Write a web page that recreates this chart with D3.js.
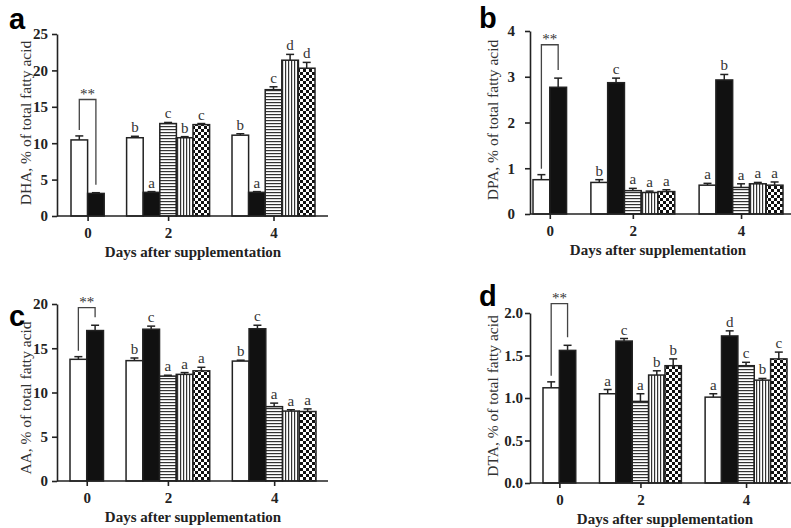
<!DOCTYPE html>
<meta charset="utf-8">
<style>
body { margin: 0; background: #fff; }
svg text { font-family: "Liberation Serif", "Times New Roman", serif; }
.letter { font-family: "Liberation Sans", Arial, sans-serif; font-weight: bold; font-size: 29px; fill: #000; }
.axis path, .axis line { stroke: #222; stroke-width: 1.6px; }
.axis text { font-family: "Liberation Serif", serif; font-weight: bold; font-size: 15px; fill: #222; }
.ytitle { font-size: 15.5px; fill: #333; }
.xtitle { font-size: 15px; font-weight: bold; fill: #222; }
.sig { font-size: 15px; fill: #333; }
.bar { stroke: #222; stroke-width: 1.5px; }
.err { stroke: #222; stroke-width: 1.5px; }
.bracket { stroke: #444; stroke-width: 1.3px; fill: none; }
</style>
<svg width="791" height="528"></svg>
<script src="https://d3js.org/d3.v7.min.js"></script>
<script>

var days = ["0", "2", "4"];
var fills = ["white", "black", "hstripe", "vstripe", "checker"];

// DHA
var dhaMean = [[10.45, 3.1], [10.75, 3.25, 12.7, 10.75, 12.55], [11.1, 3.25, 17.35, 21.4, 20.3]];
var dhaErr = [[0.55, 0.1], [0.2, 0.1, 0.15, 0.15, 0.15], [0.2, 0.1, 0.4, 0.8, 0.8]];
var dhaSig = [["", ""], ["b", "a", "c", "b", "c"], ["b", "a", "c", "d", "d"]];

// DPA
var dpaMean = [[0.75, 2.77], [0.69, 2.87, 0.51, 0.47, 0.49], [0.63, 2.93, 0.58, 0.66, 0.63]];
var dpaErr = [[0.11, 0.2], [0.06, 0.1, 0.05, 0.03, 0.04], [0.04, 0.12, 0.08, 0.03, 0.07]];
var dpaSig = [["", ""], ["b", "c", "a", "a", "a"], ["a", "b", "a", "a", "a"]];

// AA
var aaMean = [[13.75, 17.0], [13.6, 17.15, 11.85, 12.05, 12.45], [13.55, 17.2, 8.4, 7.9, 7.85]];
var aaErr = [[0.3, 0.6], [0.3, 0.35, 0.1, 0.2, 0.4], [0.1, 0.4, 0.4, 0.15, 0.3]];
var aaSig = [["", ""], ["b", "c", "a", "a", "a"], ["b", "c", "a", "a", "a"]];

// DTA
var dtaMean = [[1.12, 1.56], [1.05, 1.67, 0.96, 1.27, 1.38], [1.01, 1.73, 1.38, 1.21, 1.46]];
var dtaErr = [[0.07, 0.06], [0.05, 0.03, 0.09, 0.05, 0.08], [0.04, 0.06, 0.04, 0.02, 0.08]];
var dtaSig = [["", ""], ["a", "c", "a", "b", "b"], ["a", "d", "c", "b", "c"]];

var panels = [
  {letter: "a", lx: 9, ly: 29, title: "DHA, % of total fatty acid", mean: dhaMean, err: dhaErr, sig: dhaSig,
   ymax: 25, ticks: [0, 5, 10, 15, 20, 25], fmt: d3.format("d"), bracketTop: 16,
   axisX: 57, axisEnd: 328, y0: 216, yTop: 34, barStart: 71, barEnd: 315, gap: 1.35, titleX: 31, titleY: 123, tickPad: 4},
  {letter: "b", lx: 479, ly: 28, title: "DPA, % of total fatty acid", mean: dpaMean, err: dpaErr, sig: dpaSig,
   ymax: 4, ticks: [0, 1, 2, 3, 4], fmt: d3.format("d"), bracketTop: 3.7,
   axisX: 530, axisEnd: 791, y0: 214, yTop: 31, barStart: 533, barEnd: 783, gap: 1.45, titleX: 498, titleY: 120, tickPad: 10},
  {letter: "c", lx: 9, ly: 326, title: "AA, % of total fatty acid", mean: aaMean, err: aaErr, sig: aaSig,
   ymax: 20, ticks: [0, 5, 10, 15, 20], fmt: d3.format("d"), bracketTop: 19.6,
   axisX: 57, axisEnd: 328, y0: 481, yTop: 304, barStart: 70, barEnd: 316, gap: 1.35, titleX: 31, titleY: 398, tickPad: 4},
  {letter: "d", lx: 479, ly: 306, title: "DTA, % of total fatty acid", mean: dtaMean, err: dtaErr, sig: dtaSig,
   ymax: 2, ticks: [0, 0.5, 1, 1.5, 2], fmt: d3.format(".1f"), bracketTop: 2.11,
   axisX: 530, axisEnd: 791, y0: 483, yTop: 313, barStart: 543, barEnd: 787, gap: 1.45, titleX: 498, titleY: 396, tickPad: 2}
];

var svg = d3.select("svg");

// patterns
var defs = svg.append("defs");
var ph = defs.append("pattern").attr("id", "hstripe").attr("patternUnits", "userSpaceOnUse")
    .attr("width", 6).attr("height", 3);
ph.append("rect").attr("width", 6).attr("height", 3).attr("fill", "#fff");
ph.append("rect").attr("y", 0).attr("width", 6).attr("height", 1.2).attr("fill", "#333");

var pv = defs.append("pattern").attr("id", "vstripe").attr("patternUnits", "userSpaceOnUse")
    .attr("width", 3).attr("height", 6);
pv.append("rect").attr("width", 3).attr("height", 6).attr("fill", "#fff");
pv.append("rect").attr("x", 0).attr("width", 1.2).attr("height", 6).attr("fill", "#333");

var pc = defs.append("pattern").attr("id", "checker").attr("patternUnits", "userSpaceOnUse")
    .attr("width", 6).attr("height", 6);
pc.append("rect").attr("width", 6).attr("height", 6).attr("fill", "#fff");
pc.append("rect").attr("width", 3).attr("height", 3).attr("fill", "#111");
pc.append("rect").attr("x", 3).attr("y", 3).attr("width", 3).attr("height", 3).attr("fill", "#111");

function fillOf(f) {
  if (f === "white") return "#fff";
  if (f === "black") return "#111";
  return "url(#" + f + ")";
}

panels.forEach(function(p) {
  var g = svg.append("g");
  var sizes = p.mean.map(function(m) { return m.length; });
  var offsets = [0, sizes[0] + p.gap, sizes[0] + sizes[1] + 2 * p.gap];
  var total = sizes[0] + sizes[1] + sizes[2] + 2 * p.gap;

  var x = d3.scaleLinear().domain([0, total]).range([p.barStart, p.barEnd]);
  var y = d3.scaleLinear().domain([0, p.ymax]).range([p.y0, p.yTop]);
  var bw = x(1) - x(0);

  var bars = [];
  p.mean.forEach(function(arr, gi) {
    arr.forEach(function(v, bi) {
      bars.push({g: gi, b: bi, u: offsets[gi] + bi, v: v, e: p.err[gi][bi], s: p.sig[gi][bi]});
    });
  });

  // error bars (upper only)
  g.selectAll(".err-line").data(bars).enter().append("line")
      .attr("class", "err")
      .attr("x1", function(d) { return x(d.u + 0.5); })
      .attr("x2", function(d) { return x(d.u + 0.5); })
      .attr("y1", function(d) { return y(d.v); })
      .attr("y2", function(d) { return y(d.v + d.e); });
  g.selectAll(".err-cap").data(bars).enter().append("line")
      .attr("class", "err")
      .attr("x1", function(d) { return x(d.u + 0.5) - 4; })
      .attr("x2", function(d) { return x(d.u + 0.5) + 4; })
      .attr("y1", function(d) { return y(d.v + d.e); })
      .attr("y2", function(d) { return y(d.v + d.e); });

  g.selectAll(".bar").data(bars).enter().append("rect")
      .attr("class", "bar")
      .attr("x", function(d) { return x(d.u); })
      .attr("width", bw)
      .attr("y", function(d) { return y(d.v); })
      .attr("height", function(d) { return y(0) - y(d.v); })
      .attr("fill", function(d) { return fillOf(fills[d.b]); });

  // significance letters
  g.selectAll(".sig-l").data(bars.filter(function(d) { return d.s; })).enter().append("text")
      .attr("class", "sig")
      .attr("text-anchor", "middle")
      .attr("x", function(d) { return x(d.u + 0.5); })
      .attr("y", function(d) { return y(d.v + d.e) - 4; })
      .text(function(d) { return d.s; });

  // bracket at day 0
  var b0 = bars[0], b1 = bars[1];
  var xl = x(b0.u + 0.5), xr = x(b1.u + 0.5), yt = y(p.bracketTop);
  g.append("path").attr("class", "bracket")
      .attr("d", "M" + xl + "," + (y(b0.v + b0.e) - 6) + "V" + yt + "H" + xr + "V" + (y(b1.v + b1.e) - 8));
  g.append("text").attr("class", "sig")
      .attr("text-anchor", "middle")
      .attr("x", (xl + xr) / 2)
      .attr("y", yt - 1)
      .text("**");

  // y axis
  var yAxis = g.append("g").attr("class", "axis")
      .attr("transform", "translate(" + p.axisX + ",0)")
      .call(d3.axisLeft(y).tickValues(p.ticks).tickFormat(p.fmt).tickSize(5).tickSizeOuter(0).tickPadding(p.tickPad));
  yAxis.selectAll("text").attr("font-family", null).attr("font-size", null);

  // x axis
  var centers = offsets.map(function(o, i) { return o + sizes[i] / 2; });
  var xAxis = g.append("g").attr("class", "axis")
      .attr("transform", "translate(0," + p.y0 + ")")
      .call(d3.axisBottom(x).tickValues(centers).tickFormat(function(d, i) { return days[i]; })
        .tickSize(5).tickSizeOuter(0).tickPadding(6));
  xAxis.select(".domain").remove();
  xAxis.selectAll("text").attr("font-family", null).attr("font-size", null);
  g.append("line").attr("class", "axis")
      .attr("x1", p.axisX).attr("x2", p.axisEnd)
      .attr("y1", p.y0).attr("y2", p.y0)
      .attr("stroke", "#222").attr("stroke-width", 1.6);

  // titles
  g.append("text").attr("class", "ytitle")
      .attr("text-anchor", "middle")
      .attr("transform", "translate(" + p.titleX + "," + p.titleY + ") rotate(-90)")
      .text(p.title);
  g.append("text").attr("class", "xtitle")
      .attr("text-anchor", "middle")
      .attr("x", (x(0) + x(total)) / 2)
      .attr("y", p.y0 + 41)
      .text("Days after supplementation");

  g.append("text").attr("class", "letter")
      .attr("x", p.lx).attr("y", p.ly)
      .text(p.letter);
});

</script>
